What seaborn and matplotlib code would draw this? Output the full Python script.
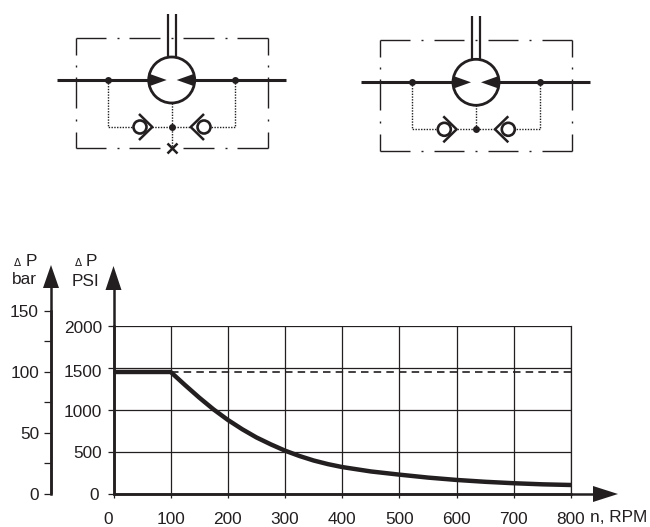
import matplotlib
matplotlib.use("Agg")
import matplotlib.pyplot as plt
from matplotlib.transforms import ScaledTranslation
import pandas as pd
import seaborn as sns

rpm = [0, 100, 125, 150, 175, 200, 225, 250, 275, 300, 325, 350, 375, 400, 450, 500, 550, 600, 650, 700, 750, 800]
dp_psi = [1450, 1450, 1295, 1145, 1005, 880, 770, 672, 590, 515, 452, 398, 355, 320, 268, 230, 195, 167, 145, 128, 115, 107]
limit_rpm = [100, 800]
limit_psi = [1450, 1450]
rpm_ticks = [0, 100, 200, 300, 400, 500, 600, 700, 800]
psi_ticks = [0, 500, 1000, 1500, 2000]
bar_ticks = [0, 50, 100, 150]
bar_minor = [25, 75, 125]

W, H = 650, 527
sns.set_theme(style="white")
plt.rcParams["font.family"] = ["Liberation Sans", "DejaVu Sans"]
INK = "#231f20"

fig = plt.figure(figsize=(W / 100, H / 100), dpi=100)


def box(x0, x1, ytop, ybot):
    return [x0 / W, 1 - ybot / H, (x1 - x0) / W, (ybot - ytop) / H]


def nudge(label, dx, dy):
    # shift a tick label by pixels, the original has a few hand placed ones
    label.set_transform(label.get_transform() + ScaledTranslation(dx / 100, -dy / 100, fig.dpi_scale_trans))


# overlay in pixel coordinates, for the schematics and axis arrows
sk = fig.add_axes([0, 0, 1, 1], zorder=5)
sk.set_xlim(0, W)
sk.set_ylim(H, 0)
sk.axis("off")
sk.patch.set_alpha(0)

ax = fig.add_axes(box(113.5, 571, 325.7, 494))
df = pd.DataFrame({"rpm": rpm, "psi": dp_psi})
sns.lineplot(data=df, x="rpm", y="psi", ax=ax, color=INK, lw=3.2, zorder=4,
             solid_capstyle="butt", errorbar=None, clip_on=False)
sns.lineplot(x=limit_rpm, y=limit_psi, ax=ax, color=INK, lw=1.2, zorder=3,
             linestyle=(0, (4.5, 3.1)), errorbar=None)
ax.set_xlim(0, 800)
ax.set_ylim(0, 2000)
ax.set_xticks(rpm_ticks)
ax.set_yticks(psi_ticks)
ax.grid(True, color=INK, lw=0.9)
ax.set_xlabel("")
ax.set_ylabel("")
ax.tick_params(axis="y", labelsize=12.4, length=4.3, width=0.9, color=INK,
               labelcolor=INK, left=True, pad=3.8)
ax.tick_params(axis="x", labelsize=12.4, length=3, width=0.9, color=INK,
               labelcolor=INK, bottom=True, pad=10)
ax.spines["top"].set_visible(False)
ax.spines["right"].set_color(INK)
ax.spines["right"].set_linewidth(0.9)
for name in ["left", "bottom"]:
    ax.spines[name].set_color(INK)
    ax.spines[name].set_linewidth(1.8)

nudge(ax.get_xticklabels()[0], -5, 0)
ylabels = ax.get_yticklabels()
nudge(ylabels[0], -3.5, 0)
nudge(ylabels[2], 0, 1)
nudge(ylabels[3], 0, 3)
nudge(ylabels[4], 0, 1)

# bar scale on its own axis to the left
bx = fig.add_axes(box(51, 52, 310.7, 494))
bx.set_ylim(0, 150)
bx.set_xticks([])
bx.set_yticks(bar_ticks)
bx.set_yticks(bar_minor, minor=True)
bx.tick_params(axis="y", which="both", labelsize=12.4, length=4.7, width=0.9, color=INK,
               labelcolor=INK, left=True, pad=4)
for name in ["top", "right", "bottom"]:
    bx.spines[name].set_visible(False)
bx.spines["left"].set_color(INK)
bx.spines["left"].set_linewidth(1.8)
bx.patch.set_alpha(0)


def arrow(xs, ys, tip, base):
    sk.plot(xs, ys, color=INK, lw=1.8, solid_capstyle="butt")
    sk.add_patch(plt.Polygon([tip, base[0], base[1]], color=INK, lw=0))


arrow([51, 51], [494, 285], (51, 265), ((43, 288), (59, 288)))
arrow([113.5, 113.5], [494, 285], (113.5, 266), ((105.5, 290), (121.5, 290)))
arrow([113.5, 600], [494, 494], (618, 494), ((593, 486), (593, 502)))

sk.text(17.5, 263, "\u0394", fontsize=7.5, color=INK, ha="center", va="center", family=["DejaVu Sans"])
sk.text(31, 261, "P", fontsize=12.4, color=INK, ha="center", va="center")
sk.text(24, 280, "bar", fontsize=12.4, color=INK, ha="center", va="center")
sk.text(78, 263, "\u0394", fontsize=7.5, color=INK, ha="center", va="center", family=["DejaVu Sans"])
sk.text(91, 262, "P", fontsize=12.4, color=INK, ha="center", va="center")
sk.text(85.7, 281, "PSI", fontsize=12.4, color=INK, ha="center", va="center")
sk.text(647, 517.5, "n, RPM", fontsize=12.4, color=INK, ha="right", va="center")


def schematic(dx, dy, plugged):
    def line(xs, ys, **kw):
        kw.setdefault("color", INK)
        kw.setdefault("solid_capstyle", "butt")
        sk.plot([x + dx for x in xs], [y + dy for y in ys], **kw)

    # dash-dot frame
    fx0, fx1, fy0, fy1 = 75.7, 267.7, 37.7, 148.3
    top_runs = [(0, 30), (41, 43), (53.7, 84.3), (107.7, 138.3), (149, 151), (161.7, 192)]
    for a, b in top_runs:
        line([fx0 + a, fx0 + b], [fy0, fy0], lw=1.0)
        line([fx0 + a, fx0 + b], [fy1, fy1], lw=1.0)
    line([171, 172.5], [fy0, fy0], lw=1.0)
    if not plugged:
        line([171, 172.5], [fy1, fy1], lw=1.0)
    side_runs = [(0, 17), (27, 29), (39, 70.3), (81, 83), (94, 110.6)]
    for a, b in side_runs:
        line([fx0, fx0], [fy0 + a, fy0 + b], lw=1.0)
        line([fx1, fx1], [fy0 + a, fy0 + b], lw=1.0)

    # pressure line and shaft
    line([56.7, 148.3], [80, 80], lw=2.2)
    line([195, 286], [80, 80], lw=2.2)
    line([167.7, 167.7], [14, 57], lw=1.6)
    line([175.7, 175.7], [14, 57], lw=1.6)

    # motor body
    sk.add_patch(plt.Circle((171.7 + dx, 80 + dy), 23, fill=False, ec=INK, lw=2.0, zorder=3))
    sk.add_patch(plt.Polygon([(148.5 + dx, 73.5 + dy), (166.7 + dx, 80 + dy), (148.5 + dx, 86.5 + dy)],
                             color=INK, lw=0, zorder=3))
    sk.add_patch(plt.Polygon([(195 + dx, 73.5 + dy), (176.7 + dx, 80 + dy), (195 + dx, 86.5 + dy)],
                             color=INK, lw=0, zorder=3))

    # dotted drain lines
    dots = (0, (1, 1))
    line([107.7, 107.7, 133], [80, 127, 127], lw=1.0, linestyle=dots)
    line([235.3, 235.3, 211], [80, 127, 127], lw=1.0, linestyle=dots)
    line([152.3, 190.7], [127, 127], lw=1.0, linestyle=dots)
    line([171.7, 171.7], [103, 148.3 if plugged else 127], lw=1.0, linestyle=dots)

    for x, y in [(107.7, 80), (235.3, 80), (171.7, 127)]:
        line([x], [y], marker="o", ms=5, mew=0, ls="none")

    # check valves
    for cx, tip, arm in [(140, 152.3, 139), (204, 190.7, 204)]:
        sk.add_patch(plt.Circle((cx + dx, 127 + dy), 6.5, fill=False, ec=INK, lw=1.9, zorder=3))
        line([arm, tip, arm], [114, 127, 140], lw=1.8)

    if plugged:
        line([171.7], [148.3], marker="x", ms=6.5, mew=1.8, ls="none")


schematic(0, 0, True)
schematic(304.3, 2.3, False)

fig.savefig("out.png", dpi=100)
